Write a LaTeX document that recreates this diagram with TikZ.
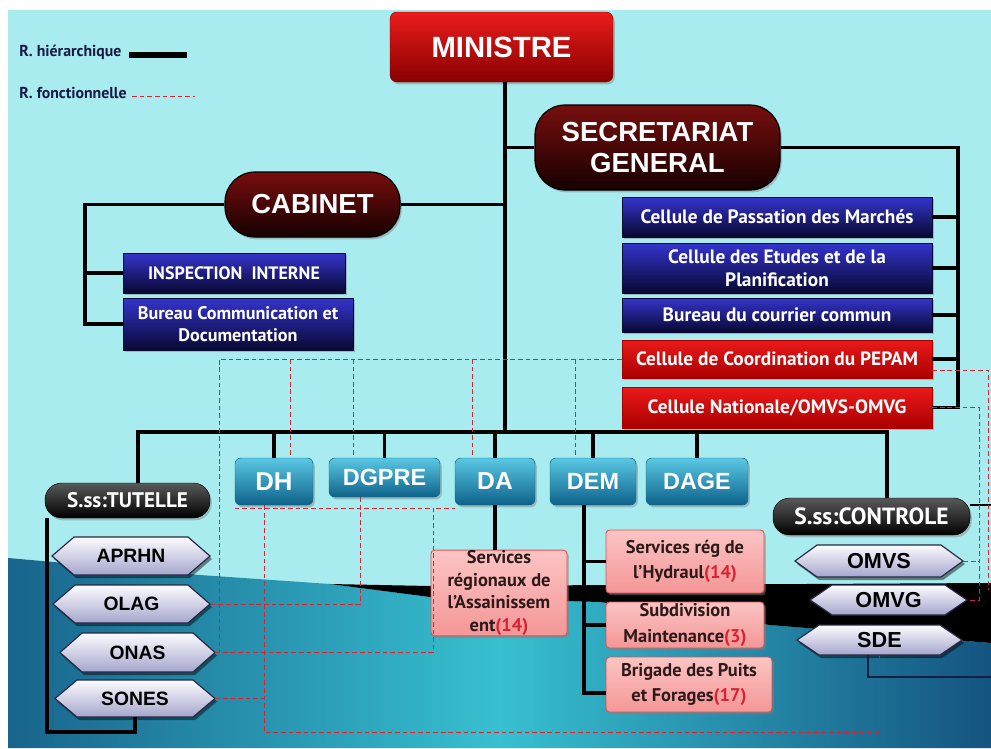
\documentclass[tikz,border=0pt]{standalone}
\usepackage{fontspec}
\setmainfont{Liberation Sans}
\newfontfamily\tw{PT Sans}
\usetikzlibrary{shadows,calc}
\pgfdeclarelayer{bg}
\pgfdeclarelayer{back}
\pgfsetlayers{bg,back,main}
\definecolor{cyanbg}{RGB}{168,236,240}
\definecolor{seaL}{RGB}{24,100,140}
\definecolor{seaM}{RGB}{55,192,208}
\definecolor{seaR}{RGB}{20,84,128}
\definecolor{minA}{RGB}{236,28,28}
\definecolor{minB}{RGB}{135,0,0}
\definecolor{pillA}{RGB}{120,14,14}
\definecolor{pillB}{RGB}{22,0,0}
\definecolor{blA}{RGB}{52,52,205}
\definecolor{blB}{RGB}{8,8,50}
\definecolor{rdA}{RGB}{235,25,25}
\definecolor{rdB}{RGB}{170,0,0}
\definecolor{tlA}{RGB}{90,200,228}
\definecolor{tlB}{RGB}{14,98,138}
\definecolor{hxA}{RGB}{252,252,255}
\definecolor{hxB}{RGB}{165,165,205}
\definecolor{hxD}{RGB}{40,40,70}
\definecolor{pkA}{RGB}{252,196,196}
\definecolor{pkB}{RGB}{244,150,150}
\definecolor{pkD}{RGB}{225,80,80}
\definecolor{pkT}{RGB}{45,25,25}
\definecolor{fred}{RGB}{215,35,50}
\definecolor{legC}{RGB}{25,25,70}
\definecolor{navyl}{RGB}{20,30,70}
% node from pixel box: style, name, x1, y1, x2, y2, text
\newcommand{\nd}[7]{\node[#1, minimum width={(#5-#3)*0.03cm}, minimum height={(#6-#4)*0.03cm}] (#2) at ({(#3+#5)/2},{(#4+#6)/2}) {#7};}
\newcommand{\hexa}[7]{%
 \begin{pgfonlayer}{back}
 \fill[black, opacity=.45, shift={(2,3)}] (#3,{(#4+#6)/2}) -- ({#3+22},#4) -- ({#5-22},#4) -- (#5,{(#4+#6)/2}) -- ({#5-22},#6) -- ({#3+22},#6) -- cycle;
 \shade[top color=hxA, bottom color=hxB, draw=hxD, line width=1pt] (#3,{(#4+#6)/2}) -- ({#3+22},#4) -- ({#5-22},#4) -- (#5,{(#4+#6)/2}) -- ({#5-22},#6) -- ({#3+22},#6) -- cycle;
 \end{pgfonlayer}
 \nd{hexn,#1}{#2}{#3}{#4}{#5}{#6}{#7}}
\newcommand{\rn}[1]{{\color{fred}#1}}
\begin{document}
\begin{tikzpicture}[x=0.03cm,y=-0.03cm,
  hl/.style={line width=3pt, black},
  fl/.style={draw=fred, line width=0.8pt, dash pattern=on 4pt off 2.5pt},
  fbox/.style={inner sep=0pt, align=center, text=white},
  shad/.style={drop shadow={shadow xshift=1.5pt, shadow yshift=-2pt, opacity=.45}},
  redtop/.style={fbox, shad, rounded corners=6pt, top color=minA, bottom color=minB, draw=minB, font=\fontsize{25}{28}\selectfont\bfseries},
  pill/.style={fbox, shad, rounded corners=0.9cm, top color=pillA, bottom color=pillB, draw=black, line width=1pt},
  bluebox/.style={fbox, shad, top color=blA, bottom color=blB, draw=blB, font=\tw\bfseries\fontsize{16.5}{20}\selectfont},
  redbox/.style={fbox, shad, top color=rdA, bottom color=rdB, draw=rdB, font=\tw\bfseries\fontsize{16.5}{20}\selectfont},
  dirbox/.style={fbox, shad, rounded corners=5pt, top color=tlA, bottom color=tlB, draw=tlB, font=\fontsize{20}{22}\selectfont\bfseries},
  blkpill/.style={fbox, shad, rounded corners=0.5cm, top color=black!65, bottom color=black, draw=black, font=\tw\bfseries\fontsize{18}{20}\selectfont},
  hexn/.style={inner sep=0pt, text=black, font=\fontsize{16.5}{18}\selectfont\bfseries},
  pink/.style={inner sep=0pt, align=center, shad, rounded corners=3pt, top color=pkA, bottom color=pkB, draw=pkD, line width=0.8pt, text=pkT, font=\tw\bfseries\fontsize{15.7}{19.5}\selectfont},
  legt/.style={text=legC, font=\tw\bfseries\fontsize{13.5}{15}\selectfont, inner sep=1pt}
]
\useasboundingbox (0,0) rectangle (991,748);
% background
\begin{pgfonlayer}{bg}
\fill[white] (0,0) rectangle (991,748);
\fill[cyanbg] (8,10) rectangle (991,748);
\shade[left color=seaL, right color=seaR, middle color=seaM] (8,558) -- (200,575) -- (330,584) -- (430,597) -- (600,602) -- (770,625) -- (991,643) -- (991,748) -- (8,748) -- cycle;
\fill[black] (330,584) -- (430,586) -- (991,583) -- (991,643) -- (770,625) -- (600,602) -- (430,597) -- cycle;
\end{pgfonlayer}

% legend
\node[legt, anchor=west] (l1) at (18,52) {R. hiérarchique};
\node[legt, anchor=west] (l2) at (18,93) {R. fonctionnelle};
\coordinate (l1e) at (187,55);
\coordinate (l2e) at (195,96);

% top level
\nd{redtop}{min}{390}{12}{613}{82}{MINISTRE}
\nd{pill, font=\fontsize{23.5}{26}\selectfont\bfseries}{sg}{535}{105}{780}{190}{SECRETARIAT\\GENERAL}
\nd{pill, font=\fontsize{23.5}{26}\selectfont\bfseries}{cab}{225}{172}{400}{237}{CABINET}

\nd{bluebox, font=\tw\bfseries\fontsize{15.3}{18}\selectfont}{ii}{123}{253}{345}{293}{INSPECTION\ \ INTERNE}
\nd{bluebox, font=\tw\bfseries\fontsize{15.5}{19}\selectfont}{bcd}{123}{298}{353}{350}{Bureau Communication et\\Documentation}

\nd{bluebox}{cpm}{622}{197}{932}{237}{Cellule de Passation des Marchés}
\nd{bluebox}{ceps}{622}{243}{932}{293}{Cellule des Etudes et de la\\Planification}
\nd{bluebox}{bcc}{622}{298}{932}{332}{Bureau du courrier commun}
\nd{redbox}{pepam}{622}{340}{932}{378}{Cellule de Coordination du PEPAM}
\nd{redbox}{cn}{622}{387}{932}{428}{Cellule Nationale/OMVS-OMVG}

% directions
\nd{dirbox, font=\fontsize{22}{24}\selectfont\bfseries}{dh}{235}{458}{313}{505}{DH}
\nd{dirbox}{dg}{329}{458}{440}{497}{DGPRE}
\nd{dirbox, font=\fontsize{21}{24}\selectfont\bfseries}{da}{455}{458}{535}{505}{DA}
\nd{dirbox}{dem}{550}{458}{636}{505}{DEM}
\nd{dirbox}{dage}{646}{458}{748}{505}{DAGE}

\nd{blkpill}{tut}{45}{483}{210}{518}{S.ss:TUTELLE}
\nd{blkpill, font=\tw\bfseries\fontsize{20}{22}\selectfont}{ctl}{773}{498}{970}{535}{S.ss:CONTROLE}

\hexa{}{aprhn}{52}{537}{210}{575}{APRHN}
\hexa{}{olag}{53}{585}{210}{623}{OLAG}
\hexa{}{onas}{60}{633}{215}{672}{ONAS}
\hexa{}{sones}{55}{680}{215}{717}{SONES}
\hexa{font=\fontsize{18.5}{20}\selectfont\bfseries}{omvs}{795}{545}{963}{577}{OMVS}
\hexa{font=\fontsize{18.5}{20}\selectfont\bfseries}{omvg}{810}{585}{967}{615}{OMVG}
\hexa{font=\fontsize{18.5}{20}\selectfont\bfseries}{sde}{797}{625}{962}{655}{SDE}

\nd{pink}{sra}{431}{553}{567}{633}{Services\\régionaux de\\l’Assainissem\\ent\rn{(14)}}
\nd{pink, font=\tw\bfseries\fontsize{15.7}{22}\selectfont}{srh}{606}{530}{764}{593}{Services rég de\\l’Hydraul\rn{(14)}}
\nd{pink, font=\tw\bfseries\fontsize{15.7}{22}\selectfont}{sdm}{606}{602}{764}{648}{Subdivision\\Maintenance\rn{(3)}}
\nd{pink, font=\tw\bfseries\fontsize{15.7}{22}\selectfont}{bpf}{606}{657}{772}{712}{Brigade des Puits\\et Forages\rn{(17)}}

% coordinates
\coordinate (mv) at (505,432);
\coordinate (busL) at (138,432);
\coordinate (busR) at (887,432);
\coordinate (sgr) at (958,0);
\coordinate (cabl) at (85,0);
\coordinate (dv) at (584,693);
\coordinate (tb) at (47,732);
\coordinate (ce) at (991,505);
\coordinate (sdeb) at (868,677);

% legend lines
\draw[line width=4.5pt, black] (l1.east |- l1e) ++(6,0) -- (l1e);
\draw[fl] (l2.east |- l2e) ++(4,0) -- (l2e);

% hierarchy
\draw[hl] (min.south -| mv) -- (mv);
\draw[hl] (busL |- tut.north) -- (busL) -- (busR) -- (busR |- ctl.north);
\draw[hl] (sg.west) -- (sg.west -| mv);
\draw[hl] (sg.east) -- (sg.east -| sgr) -- (sgr |- cn.east) -- (cn.east);
\foreach \n in {cpm,ceps,bcc,pepam} \draw[hl] (\n.east) -- (\n.east -| sgr);
\draw[hl] (cab.east) -- (cab.east -| mv);
\draw[hl] (cab.west) -- (cab.west -| cabl) -- (cabl |- bcd.west) -- (bcd.west);
\draw[hl] (cabl |- ii.west) -- (ii.west);
\foreach \n in {dh,dg,da,dem,dage} \draw[hl] (\n.north) -- (\n.north |- mv);
\draw[hl] (da.south) -- (da.south |- sra.north);
\draw[hl] (dv |- dem.south) -- (dv) -- (dv -| bpf.west);
\draw[hl] (dv |- srh.west) -- (srh.west);
\draw[hl] (dv |- sdm.west) -- (sdm.west);
\draw[hl] (tut.south -| tb) -- (tb) -- (tb -| sones.south) -- (sones.south);
\draw[line width=1.5pt, black] (ctl.east |- ce) -- (ce);
\draw[line width=1.2pt, navyl] (sdeb |- sde.south) -- (sdeb) -- (sdeb -| ce);

% functional links
\coordinate (f1) at (219,359);
\coordinate (f3) at (433,508);
\coordinate (f4) at (264,732);
\coordinate (f5) at (988,370);
\coordinate (f5b) at (988,590);
\coordinate (f6) at (979,600);
\draw[fl] (pepam.west) -- (pepam.west -| f1) -- (f1 |- onas.east) -- (onas.east);
\draw[fl] (onas.east) -- (onas.east -| f3) -- (f3) -- (f3 -| da.west);
\draw[fl] (dh.south west |- f3) -- (f3);
\foreach \x/\n in {290/dh,353/dg,472/da,575/dem} \draw[fl] (\x,359) -- (\x,359 |- \n.north);
\draw[fl] (dg.south -| 360,0) |- (olag.east);
\draw[fl] (dh.south -| f4) -- (f4) -| (sde.south);
\draw[fl] (sones.east) -- (sones.east -| f4);
\draw[fl] (pepam.east |- f5) -- (f5) -- (f5b);
\draw[fl] (cn.east) -- (cn.east -| f6) -- (f6) -- (omvg.east);
\draw[fl] (omvs.east) -- (omvs.east -| f6);
\end{tikzpicture}
\end{document}
